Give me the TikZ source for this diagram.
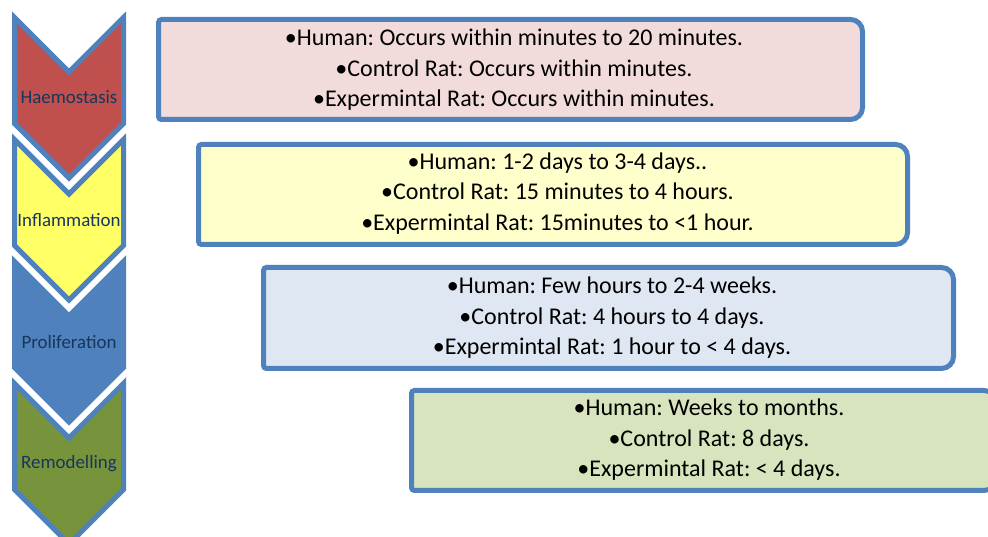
\documentclass[tikz,border=0pt]{standalone}
\usepackage{fontspec}
\setmainfont{Carlito}
\frenchspacing
\definecolor{bord}{HTML}{4F81BD}
\definecolor{cred}{HTML}{C0504D}
\definecolor{cyel}{HTML}{FFFF66}
\definecolor{cblu}{HTML}{4F81BD}
\definecolor{cgrn}{HTML}{77933C}
\definecolor{lbl}{HTML}{17365D}
\definecolor{fred}{HTML}{F2DCDB}
\definecolor{fyel}{HTML}{FFFFCC}
\definecolor{fblu}{HTML}{DFE7F2}
\definecolor{fgrn}{HTML}{D7E4BD}
\newcommand\rbox[5]{%
  \filldraw[boxline, fill=#5] (#1,#4+3) -- (#1,#2-3) arc[start angle=180,end angle=90,radius=3pt]
   -- (#3-12,#2) arc[start angle=90,end angle=0,radius=12pt]
   -- (#3,#4+12) arc[start angle=0,end angle=-90,radius=12pt]
   -- (#1+3,#4) arc[start angle=270,end angle=180,radius=3pt] -- cycle;}
\tikzset{
  chevline/.style={draw=bord, line width=5pt, line join=miter},
  boxline/.style={draw=bord, line width=5pt},
  chevlabel/.style={text=lbl, font=\fontsize{18.9}{22}\selectfont, inner sep=0pt},
  boxtext/.style={text=black, align=center, font=\fontsize{24}{30.5}\selectfont, inner sep=0pt},
}
\begin{document}
\begin{tikzpicture}[x=1pt,y=1pt]
\useasboundingbox (0,0) rectangle (988,537);
\clip (0,0) rectangle (988,537);
% chevrons
\begin{scope}[yshift=-1.5pt]
\filldraw[chevline, fill=cred] (14.5,521) -- (69,466.5) -- (123.5,521) -- (123.5,415) -- (69,360.5) -- (14.5,415) -- cycle;
\filldraw[chevline, fill=cyel] (14.5,399) -- (69,344.5) -- (123.5,399) -- (123.5,293) -- (69,238.5) -- (14.5,293) -- cycle;
\filldraw[chevline, fill=cblu] (14.5,277) -- (69,222.5) -- (123.5,277) -- (123.5,171) -- (69,116.5) -- (14.5,171) -- cycle;
\filldraw[chevline, fill=cgrn] (14.5,155) -- (69,100.5) -- (123.5,155) -- (123.5,49) -- (69,-5.5) -- (14.5,49) -- cycle;
\end{scope}
\node[chevlabel] (l1) at (69,440) {Haemostasis};
\node[chevlabel] (l2) at (69,317) {Inflammation};
\node[chevlabel] (l3) at (69,195) {Proliferation};
\node[chevlabel] (l4) at (69,73) {Remodelling};
% boxes
\rbox{158.5}{517.5}{862.5}{417.5}{fred}
\rbox{198.5}{392.5}{907.5}{292.5}{fyel}
\rbox{263.5}{269.5}{953.5}{168.5}{fblu}
\rbox{411.5}{146.5}{996}{46.5}{fgrn}
\node[boxtext] (t1) at (514,467) {•Human: Occurs within minutes to 20 minutes.\\•Control Rat: Occurs within minutes.\\•Expermintal Rat: Occurs within minutes.};
\node[boxtext] (t2) at (557.5,343.5) {•Human: 1-2 days to 3-4 days..\\•Control Rat: 15 minutes to 4 hours.\\•Expermintal Rat: 15minutes to <1 hour.};
\node[boxtext] (t3) at (612,219) {•Human: Few hours to 2-4 weeks.\\•Control Rat: 4 hours to 4 days.\\•Expermintal Rat: 1 hour to < 4 days.};
\node[boxtext] (t4) at (709,97) {•Human: Weeks to months.\\•Control Rat: 8 days.\\•Expermintal Rat: < 4 days.};
\end{tikzpicture}
\end{document}
